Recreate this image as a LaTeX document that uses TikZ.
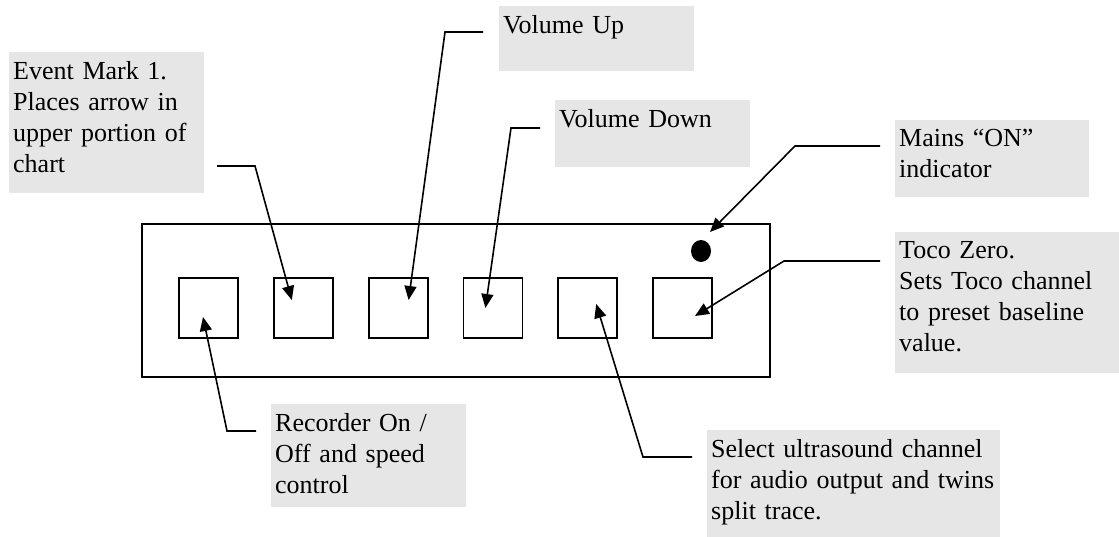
\documentclass[tikz,border=0pt]{standalone}
\usepackage{fontspec}
\setmainfont{Liberation Serif}
\usetikzlibrary{arrows.meta, shapes.geometric, positioning}
\definecolor{boxgray}{HTML}{E6E6E6}

\begin{document}
\begin{tikzpicture}[
  x=1pt, y=-1pt,
  >={Triangle[length=14pt,width=12pt]},
  btn/.style={draw, line width=1.8pt, minimum width=59pt, minimum height=60pt, inner sep=0pt},
  lbl/.style={fill=boxgray, anchor=north west, align=left, inner xsep=4pt, inner ysep=9pt,
              font=\fontsize{26}{31}\selectfont},
  lead/.style={->, line width=1.6pt}
]
  \useasboundingbox (0,0) rectangle (1119,537);

  %--- front panel ---
  \node[draw, line width=1.8pt, minimum width=628pt, minimum height=153pt,
        inner sep=0pt, anchor=north west] (panel) at (141,223) {};
  \foreach \i in {1,...,6}
    \node[btn] (b\i) at ({208.5+94.8*(\i-1)},308) {};
  \node[ellipse, fill, minimum width=20pt, minimum height=22pt, inner sep=0pt]
    (led) at (701,251) {};

  %--- arrow tips on the controls ---
  \path (b1.center) ++(-5.5,9)  coordinate (t1);
  \path (b2.center) ++(-11.5,-8) coordinate (t2);
  \path (b3.center) ++(10.5,-8) coordinate (t3);
  \path (b4.center) ++(-7.5,0)  coordinate (t4);
  \path (b5.center) ++(8.5,-4)  coordinate (t5);
  \path (b6.center) ++(12.5,8)  coordinate (t6);
  \path (led.center) ++(9,-19)  coordinate (tled);

  %--- labels ---
  \node[lbl, text width=187pt, text depth=105pt] (ev) at (9,52)
    {Event Mark 1.\\Places arrow in\\upper portion of\\chart};
  \node[lbl, text width=187pt, text depth=29pt] (vu) at (499,6) {Volume Up};
  \node[lbl, text width=187pt, text depth=31pt] (vd) at (555,100) {Volume Down};
  \node[lbl, text width=186pt, text depth=41pt] (mn) at (895,120)
    {Mains “ON”\\indicator};
  \node[lbl, text width=216pt, text depth=106pt] (tz) at (895,232)
    {Toco Zero.\\Sets Toco channel\\to preset baseline\\value.};
  \node[lbl, text width=187pt, text depth=67pt] (rc) at (271,404)
    {Recorder On /\\Off and speed\\control};
  \node[lbl, text width=285pt, text depth=75pt] (sl) at (707,430)
    {Select ultrasound channel\\for audio output and twins\\split trace.};

  %--- free ends of the leaders ---
  \coordinate (evA) at (217,166);
  \coordinate (vuA) at (483,32);
  \coordinate (vdA) at (540,128);
  \coordinate (mnA) at (880,146);
  \coordinate (tzA) at (880,261);
  \coordinate (rcA) at (256,431);
  \coordinate (slA) at (692,457);

  %--- leaders ---
  \draw[lead] (evA) -- ++(38,0)  -- (t2);
  \draw[lead] (vuA) -- ++(-38,0) -- (t3);
  \draw[lead] (vdA) -- ++(-29,0) -- (t4);
  \draw[lead] (mnA) -- ++(-85,0) -- (tled);
  \draw[lead] (tzA) -- ++(-96,0) -- (t6);
  \draw[lead] (rcA) -- ++(-29,0) -- (t1);
  \draw[lead] (slA) -- ++(-49,0) -- (t5);
\end{tikzpicture}
\end{document}
